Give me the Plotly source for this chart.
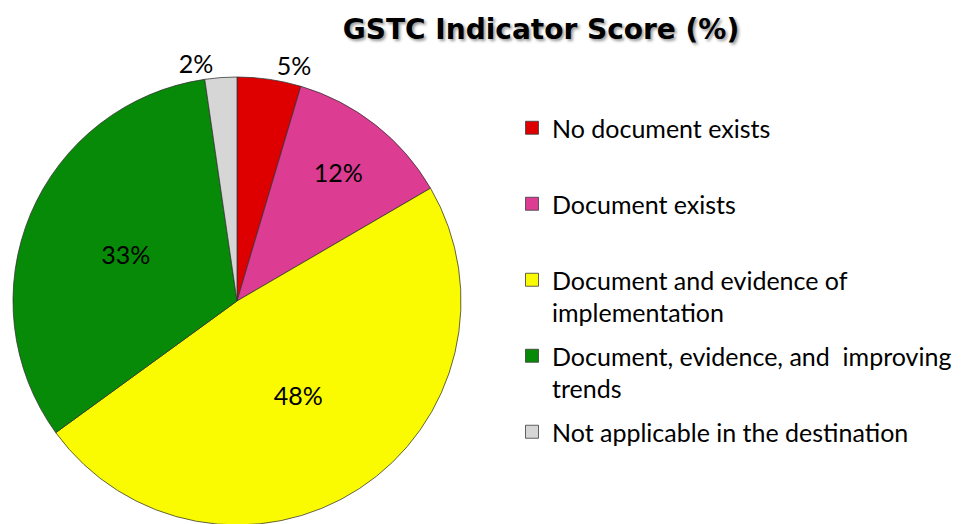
import plotly.graph_objects as go

labels = [
    "No document exists",
    "Document exists",
    "Document and evidence of<br>implementation",
    "Document, evidence, and  improving<br>trends",
    "Not applicable in the destination",
]
values = [4.6, 12.0, 48.4, 32.7, 2.3]
colors = ["#DE0000", "#DC3C92", "#FAFA00", "#078A07", "#D6D6D6"]
text_pos = ["outside", "inside", "inside", "inside", "outside"]

FONT = "Lato"
W, H = 976, 524

fig = go.Figure()

# pie itself, legend is drawn with dummy traces so spacing can be controlled
fig.add_trace(go.Pie(
    labels=labels,
    values=values,
    sort=False,
    direction="clockwise",
    rotation=0,
    marker=dict(colors=colors, line=dict(color="rgba(50,50,50,0.75)", width=1)),
    texttemplate="%{percent:.0%}",
    textposition=text_pos,
    insidetextorientation="horizontal",
    textfont=dict(family=FONT, size=25, color="black"),
    domain=dict(x=[5 / W, 453 / W], y=[7 / H, 455 / H]),
    showlegend=False,
    hoverinfo="label+percent",
))

for lab, col in zip(labels, colors):
    name = lab if "<br>" in lab else lab + "<br> "
    fig.add_trace(go.Scatter(
        x=[None], y=[None], mode="markers", name=name, legendgroup=lab,
        marker=dict(symbol="square", size=13, color=col,
                    line=dict(color="rgba(60,60,60,0.8)", width=1)),
    ))

fig.update_layout(
    width=W, height=H,
    margin=dict(l=0, r=0, t=0, b=0),
    paper_bgcolor="white",
    plot_bgcolor="white",
    xaxis=dict(visible=False),
    yaxis=dict(visible=False),
    title=dict(
        text="<b>GSTC Indicator Score (%)</b>",
        x=533 / W, xanchor="center", xref="paper",
        y=1 - 21 / H, yanchor="middle", yref="paper",
        font=dict(family="DejaVu Sans", size=28, color="black", shadow="2px 2px 3px #999"),
    ),
    legend=dict(
        x=504 / W, xanchor="left",
        y=1 - 97 / H, yanchor="top",
        font=dict(family=FONT, size=25, color="black"),
        valign="top",
        tracegroupgap=8,
        itemclick=False,
    ),
)

fig.write_html("out.html")
